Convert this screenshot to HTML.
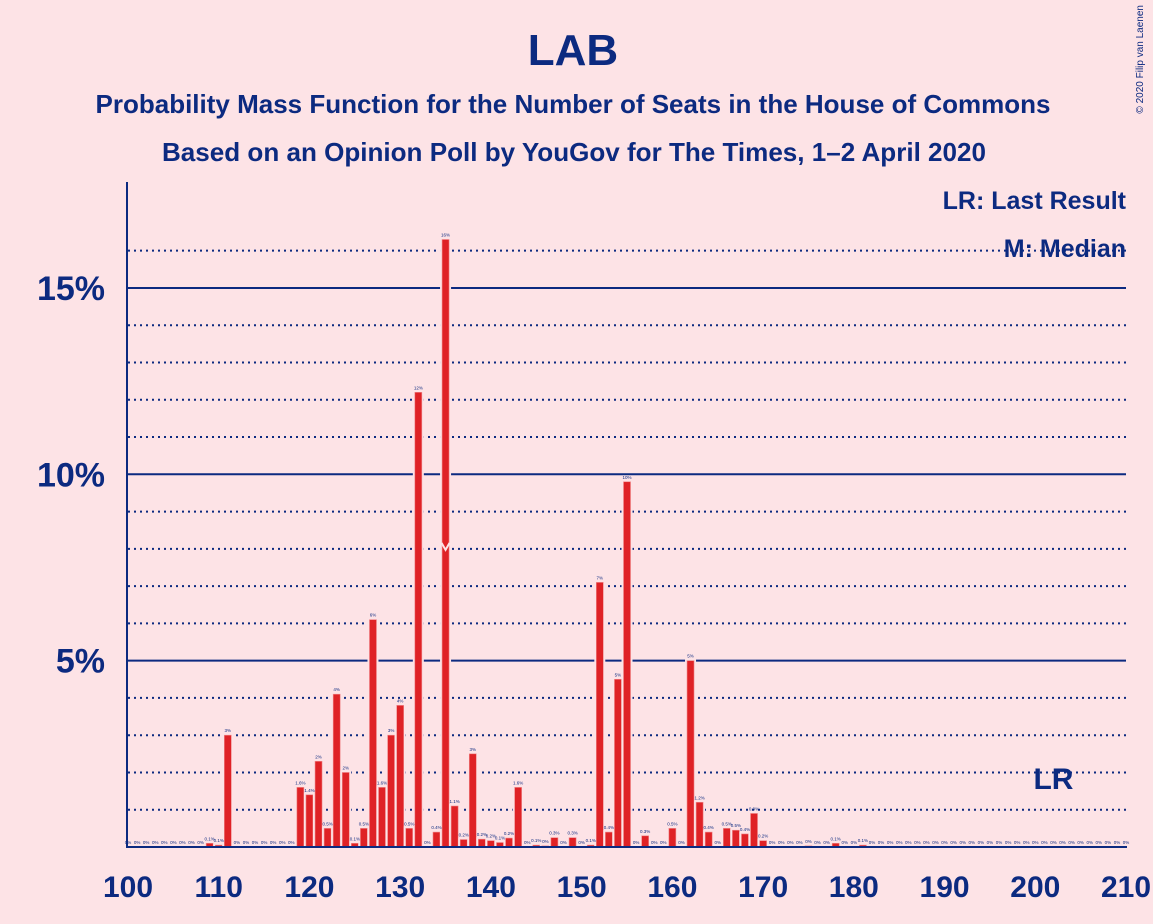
<!DOCTYPE html>
<html><head><meta charset="utf-8"><style>
html,body{margin:0;padding:0;background:#fde3e6;}
svg{display:block;font-family:"Liberation Sans",sans-serif;}
</style></head><body>
<svg id="chart" width="1153" height="924" viewBox="0 0 1153 924">
<rect x="0" y="0" width="1153" height="924" fill="#fde3e6"/>
<text x="573" y="65" text-anchor="middle" font-size="44" font-weight="bold" fill="#0c2a80">LAB</text>
<text x="573" y="113" text-anchor="middle" font-size="26" font-weight="bold" fill="#0c2a80" textLength="955" lengthAdjust="spacingAndGlyphs">Probability Mass Function for the Number of Seats in the House of Commons</text>
<text x="574" y="161" text-anchor="middle" font-size="26" font-weight="bold" fill="#0c2a80" textLength="824" lengthAdjust="spacingAndGlyphs">Based on an Opinion Poll by YouGov for The Times, 1–2 April 2020</text>
<text x="1143" y="5" transform="rotate(-90 1143 5)" text-anchor="end" font-size="10" fill="#0c2a80">© 2020 Filip van Laenen</text>
<g id="grid"></g>
<g id="bars"></g>
<g id="labels"></g>
<line x1="127" y1="182" x2="127" y2="848" stroke="#0c2a80" stroke-width="2"/>
<line x1="126" y1="847" x2="1127" y2="847" stroke="#0c2a80" stroke-width="2"/>
<g id="ticks"></g>
<text x="1126" y="209" text-anchor="end" font-size="25" font-weight="bold" fill="#0c2a80">LR: Last Result</text>
<text x="1126" y="257" text-anchor="end" font-size="25" font-weight="bold" fill="#0c2a80">M: Median</text>
</svg>
<script>
const seats = [];
for (let s = 100; s <= 210; s++) seats.push(s);
const probs = [0,0,0,0,0,0,0,0,0,0.1,0.05,3.0,0,0,0,0,0,0,0,1.6,1.4,2.3,0.5,4.1,2.0,0.1,0.5,6.1,1.6,3.0,3.8,0.5,12.2,0,0.4,16.3,1.1,0.2,2.5,0.21,0.17,0.12,0.24,1.6,0,0.05,0.03,0.25,0,0.25,0,0.05,7.1,0.4,4.5,9.8,0,0.3,0,0,0.5,0,5.0,1.2,0.4,0,0.5,0.45,0.35,0.9,0.17,0,0,0,0,0.03,0,0,0.1,0,0,0.05,0,0,0,0,0,0,0,0,0,0,0,0,0,0,0,0,0,0,0,0,0,0,0,0,0,0,0,0,0];
const yTicks = [5,10,15];
const yTickLabels = ["5%","10%","15%"];
const xTicks = [100,110,120,130,140,150,160,170,180,190,200,210];
const medianSeat = 135;
const lastResultSeat = 202;

const NS = "http://www.w3.org/2000/svg";
const xs = s => 128 + (s - 100) * 9.073;
const ys = v => 847 - v * 37.27;
const BG = "#fde3e6", NAVY = "#0c2a80", RED = "#df2226";
function mk(tag, attrs, parent) {
  const e = document.createElementNS(NS, tag);
  for (const k in attrs) e.setAttribute(k, attrs[k]);
  parent.appendChild(e); return e;
}
const grid = document.getElementById('grid');
for (let p = 1; p <= 16; p++) {
  const major = p % 5 === 0;
  const l = mk('line', {x1:128, x2:1126, y1:ys(p), y2:ys(p), stroke:NAVY,
    'stroke-width': 2, 'stroke-dasharray': major ? 'none' : '2,4'}, grid);
  
  
}
const ticks = document.getElementById('ticks');
yTicks.forEach((v, i) => {
  const t = mk('text', {x:105, y:ys(v)+12, 'text-anchor':'end', 'font-size':34, 'font-weight':'bold', fill:NAVY}, ticks);
  t.textContent = yTickLabels[i];
  
  
});
xTicks.forEach(s => {
  const t = mk('text', {x:xs(s), y:897, 'text-anchor':'middle', 'font-size':30, 'font-weight':'bold', fill:NAVY}, ticks);
  t.textContent = String(s);
  
  
});
const bars = document.getElementById('bars');
const labels = document.getElementById('labels');
function fmt(v) {
  if (v < 0.05) return "0%";
  if (v < 2) return (Math.round(v*10)/10) + "%";
  return Math.round(v) + "%";
}
seats.forEach((s, i) => {
  const v = probs[i];
  const cx = xs(s);
  if (v > 0) {
    const h = Math.max(v * 37.27, 1);
    mk('rect', {x:cx-5.5, y:ys(v)-2, width:11, height:h+2, fill:BG}, bars);
    const r = mk('rect', {x:cx-3.5, y:847-h, width:7, height:h, fill:RED, stroke:'#f08a8c', 'stroke-width':0.6}, bars);
    
    
  }
  const t = mk('text', {x:cx, y:ys(v)-3, 'text-anchor':'middle', 'font-size':4.5, fill:NAVY}, labels);
  t.textContent = fmt(v);
  
  
});
const mx = xs(medianSeat), my = ys(8);
const m = mk('polyline', {points:`${mx-4},${my-6} ${mx},${my+1} ${mx+4},${my-6}`, fill:'none', stroke:'#fde3e6', 'stroke-width':2}, labels);


const lr = mk('text', {x:xs(lastResultSeat), y:789, 'text-anchor':'middle', 'font-size':30, 'font-weight':'bold', fill:NAVY}, labels);
lr.textContent = 'LR';


</script>
</body></html>
